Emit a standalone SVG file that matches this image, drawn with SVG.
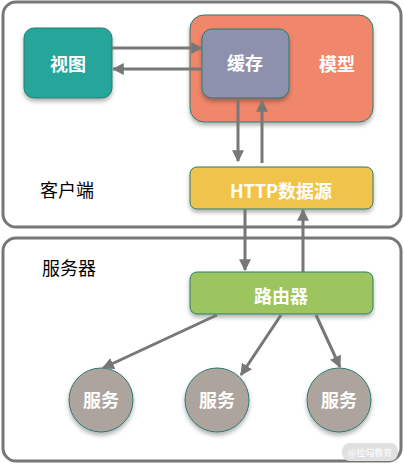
<svg xmlns="http://www.w3.org/2000/svg" width="404" height="464" viewBox="0 0 404 464">
<style>
.frame{fill:#fff;stroke:#777;stroke-width:3}
.node{stroke:#2a7a70;stroke-width:1;filter:url(#sh)}
.lbl{font-family:"Noto Sans CJK SC","Noto Sans",sans-serif;font-size:18px;font-weight:bold;fill:#fff;text-anchor:middle;dominant-baseline:central}
.cap{font-family:"Noto Sans CJK SC","Noto Sans",sans-serif;font-size:18px;fill:#000}
.edge{stroke:#777;stroke-width:3;fill:none;marker-end:url(#ah)}
</style>
<defs>
<filter id="sh" x="-20%" y="-20%" width="150%" height="160%">
<feDropShadow dx="0" dy="3" stdDeviation="2" flood-color="#000" flood-opacity="0.3"/>
</filter>
<marker id="ah" viewBox="0 0 10 10" refX="9" refY="5" markerWidth="4" markerHeight="4" markerUnits="strokeWidth" orient="auto">
<path d="M0,0 L10,5 L0,10 z" fill="#777"/>
</marker>
</defs>
<rect class="frame" x="3" y="2" width="398" height="225" rx="13"/>
<rect class="frame" x="3" y="238" width="398" height="223" rx="13"/>
<text class="cap" x="40" y="197">客户端</text>
<text class="cap" x="42" y="275">服务器</text>
<g id="model"><rect class="node" x="190" y="15" width="183" height="107" rx="14" fill="#F0876A"/><text class="lbl" x="337" y="63">模型</text></g>
<g id="view"><rect class="node" x="24" y="28" width="88" height="70" rx="10" fill="#26A69A"/><text class="lbl" x="68" y="63">视图</text></g>
<g id="cache"><rect class="node" x="202" y="29" width="87" height="69" rx="10" fill="#8E91AD"/><text class="lbl" x="245" y="62">缓存</text></g>
<g id="http"><rect class="node" x="190" y="167" width="183" height="42" rx="7" fill="#F0C44C"/><text class="lbl" x="281" y="190">HTTP数据源</text></g>
<g id="router"><rect class="node" x="190" y="272" width="183" height="42" rx="7" fill="#9CC55E"/><text class="lbl" x="281" y="295">路由器</text></g>
<g id="svc1"><circle class="node" cx="101" cy="400" r="32" fill="#ADA49E"/><text class="lbl" x="101" y="399">服务</text></g>
<g id="svc2"><circle class="node" cx="217" cy="400" r="32" fill="#ADA49E"/><text class="lbl" x="217" y="399">服务</text></g>
<g id="svc3"><circle class="node" cx="339" cy="400" r="32" fill="#ADA49E"/><text class="lbl" x="339" y="399">服务</text></g>
<g id="edges">
<line class="edge" x1="112" y1="48" x2="202" y2="48"/>
<line class="edge" x1="202" y1="69" x2="113" y2="69"/>
<line class="edge" x1="238" y1="100" x2="238" y2="161"/>
<line class="edge" x1="262" y1="163" x2="262" y2="101"/>
<line class="edge" x1="245" y1="209" x2="245" y2="270"/>
<line class="edge" x1="303" y1="272" x2="303" y2="210"/>
<line class="edge" x1="217" y1="315" x2="103" y2="368"/>
<line class="edge" x1="281" y1="315" x2="241" y2="375"/>
<line class="edge" x1="316" y1="315" x2="340" y2="367"/>
</g>
<g id="watermark"><rect x="342" y="443" width="56" height="18" rx="8" fill="#e0e0e0"/><text x="370" y="452" font-family="Noto Sans CJK SC,sans-serif" font-size="9" fill="#fff" text-anchor="middle" dominant-baseline="central">@拉勾教育</text></g>
</svg>
